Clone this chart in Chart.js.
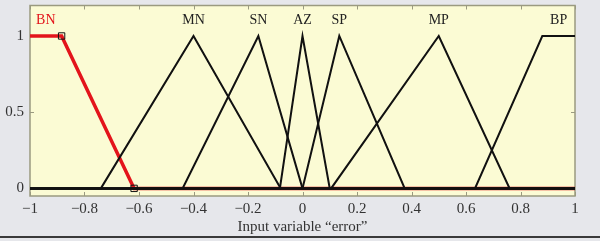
<!DOCTYPE html>
<html>
<head>
<meta charset="utf-8">
<script src="https://cdn.jsdelivr.net/npm/chart.js@4/dist/chart.umd.min.js"></script>
<style>
  html, body { margin: 0; padding: 0; background: #e6e7eb; }
  #wrap { width: 600px; height: 241px; position: relative; }
</style>
</head>
<body>
<div id="wrap"><canvas id="mfChart"></canvas></div>
<script>
// ------------ MEMBERSHIP FUNCTIONS OF INPUT "error" ------------ //

var mfNames = ["BN", "MN", "SN", "AZ", "SP", "MP", "BP"];
var mfBreaks = [
    [-1, -0.884, -0.618, 1],
    [-1, -0.74, -0.4, -0.08, 1],
    [-1, -0.44, -0.162, 0.0, 1],
    [-1, -0.083, 0.0, 0.1, 1],
    [-1, 0.0, 0.135, 0.375, 1],
    [-1, 0.105, 0.5, 0.76, 1],
    [-1, 0.633, 0.88, 1]
];
var mfGrades = [
    [1, 1, 0, 0],
    [0, 0, 1, 0, 0],
    [0, 0, 1, 0, 0],
    [0, 0, 1, 0, 0],
    [0, 0, 1, 0, 0],
    [0, 0, 1, 0, 0],
    [0, 0, 1, 1]
];
var xTicks = [-1, -0.8, -0.6, -0.4, -0.2, 0, 0.2, 0.4, 0.6, 0.8, 1];
var yTicks = [0, 0.5, 1];
var selected = 0; // BN is the highlighted one

var serif = "'Liberation Serif', 'DejaVu Serif', serif";
var textColor = '#333333';

function fmt(v) {
    return String(v).replace('-', '\u2212');
}

var datasets = mfNames.map(function (name, i) {
    return {
        label: name,
        data: mfBreaks[i].map(function (x, j) { return { x: x, y: mfGrades[i][j] }; }),
        borderColor: i === selected ? '#e3141b' : '#111111',
        borderWidth: i === selected ? 3.5 : 2,
        pointRadius: 0,
        tension: 0,
        order: i === selected ? 2 : 1
    };
});

// little squares on the break points of the selected function
datasets.push({
    label: 'handles',
    type: 'scatter',
    data: mfBreaks[selected].slice(1, 3).map(function (x, j) {
        return { x: x, y: mfGrades[selected][j + 1] };
    }),
    pointStyle: 'rect',
    pointRadius: 4.5,
    borderColor: '#111111',
    backgroundColor: 'rgba(0,0,0,0)',
    borderWidth: 1,
    order: 0
});

var framePlugin = {
    id: 'frame',
    beforeDatasetsDraw: function (chart) {
        var ctx = chart.ctx, a = chart.chartArea;
        var xs = chart.scales.x, ys = chart.scales.y;
        ctx.save();
        ctx.fillStyle = '#fbfbd4';
        ctx.fillRect(a.left, a.top, a.right - a.left, a.bottom - a.top);
        ctx.strokeStyle = '#9a9a80';
        ctx.lineWidth = 1;
        ctx.beginPath();
        xTicks.forEach(function (v) {
            var px = Math.round(xs.getPixelForValue(v)) + 0.5;
            ctx.moveTo(px, a.bottom); ctx.lineTo(px, a.bottom - 4);
            ctx.moveTo(px, a.top); ctx.lineTo(px, a.top + 4);
        });
        yTicks.forEach(function (v) {
            var py = Math.round(ys.getPixelForValue(v)) + 0.5;
            ctx.moveTo(a.left, py); ctx.lineTo(a.left + 4, py);
            ctx.moveTo(a.right, py); ctx.lineTo(a.right - 4, py);
        });
        ctx.stroke();
        ctx.lineWidth = 1.5;
        ctx.strokeRect(a.left, a.top, a.right - a.left, a.bottom - a.top);
        ctx.restore();
    },
    afterDatasetsDraw: function (chart) {
        var ctx = chart.ctx;
        var xs = chart.scales.x, ys = chart.scales.y;
        ctx.save();
        ctx.font = '14px ' + serif;
        ctx.textAlign = 'center';
        ctx.textBaseline = 'middle';
        mfNames.forEach(function (name, i) {
            // centre of the part where the grade is 1
            var top = mfBreaks[i].filter(function (x, j) { return mfGrades[i][j] === 1; });
            var cx = top.reduce(function (s, x) { return s + x; }, 0) / top.length;
            ctx.fillStyle = i === selected ? '#e3141b' : '#222222';
            ctx.fillText(name, xs.getPixelForValue(cx), ys.getPixelForValue(1.1));
        });
        ctx.restore();
    },
    afterDraw: function (chart) {
        var ctx = chart.ctx;
        ctx.save();
        ctx.fillStyle = '#3a3a3a';
        ctx.fillRect(0, 236, chart.width, 2);
        ctx.restore();
    }
};

new Chart(document.getElementById('mfChart'), {
    type: 'line',
    data: { datasets: datasets },
    options: {
        responsive: true,
        maintainAspectRatio: false,
        animation: false,
        layout: { padding: { left: 0, right: 25, top: 5, bottom: 0 } },
        plugins: {
            legend: { display: false },
            tooltip: { enabled: false }
        },
        scales: {
            x: {
                type: 'linear',
                min: -1,
                max: 1,
                grid: { display: false, drawTicks: false },
                border: { display: false },
                afterBuildTicks: function (scale) {
                    scale.ticks = xTicks.map(function (v) { return { value: v }; });
                },
                afterFit: function (scale) {
                    scale.height = 45;
                    scale.paddingLeft = 0;
                    scale.paddingRight = 0;
                },
                ticks: {
                    padding: 4,
                    maxRotation: 0,
                    autoSkip: false,
                    color: textColor,
                    font: { family: serif, size: 15 },
                    callback: function (v) { return fmt(v); }
                },
                title: {
                    display: true,
                    text: 'Input variable \u201cerror\u201d',
                    color: textColor,
                    font: { family: serif, size: 15 },
                    padding: { top: 0, bottom: 5 }
                }
            },
            y: {
                min: -0.05,
                max: 1.2,
                grid: { display: false, drawTicks: false },
                border: { display: false },
                afterBuildTicks: function (scale) {
                    scale.ticks = yTicks.map(function (v) { return { value: v }; });
                },
                afterFit: function (scale) {
                    scale.width = 30;
                    scale.paddingTop = 0;
                    scale.paddingBottom = 0;
                },
                ticks: {
                    padding: 6,
                    color: textColor,
                    font: { family: serif, size: 15 },
                    callback: function (v) { return fmt(v); }
                }
            }
        }
    },
    plugins: [framePlugin]
});
</script>
</body>
</html>
